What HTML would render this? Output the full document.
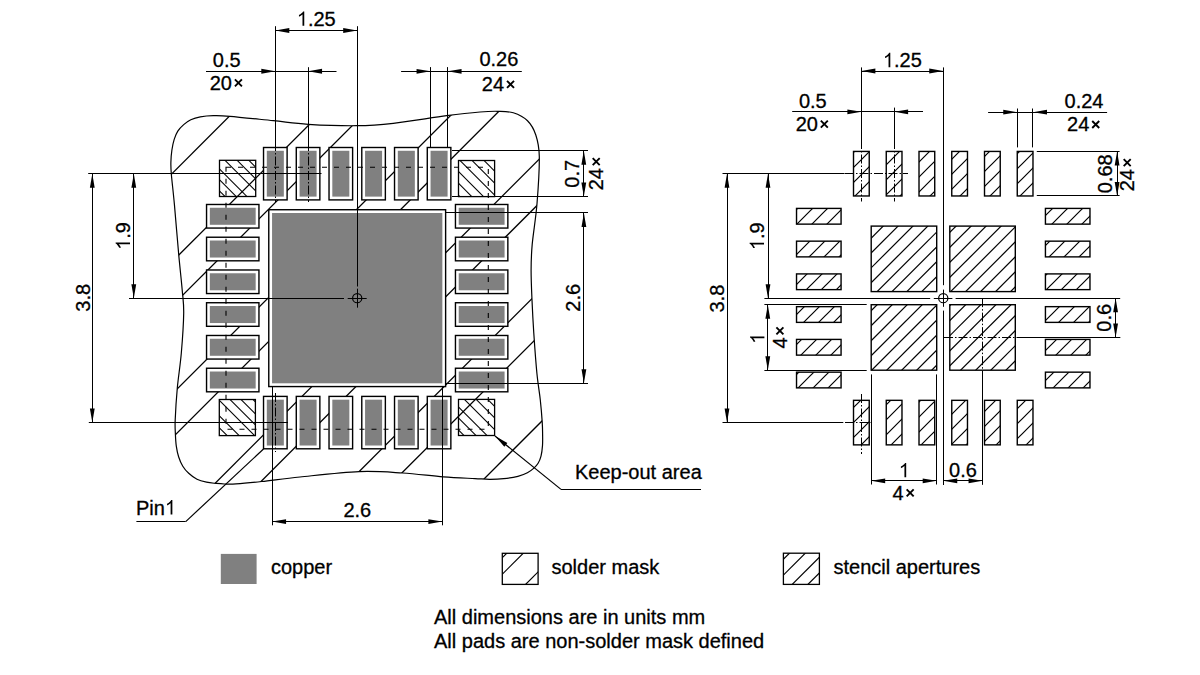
<!DOCTYPE html>
<html><head><meta charset="utf-8"><style>
html,body{margin:0;padding:0;background:#fff;width:1200px;height:675px;overflow:hidden}
svg{display:block}
</style></head><body>
<svg width="1200" height="675" viewBox="0 0 1200 675" font-family="Liberation Sans, sans-serif" stroke="#000" fill="#000">
<g stroke="#000">
<defs><clipPath id="ko"><path d="M171.30,173.70 C170.72,166.62 170.80,165.85 170.90,161.90 C171.00,157.95 171.35,153.75 171.90,150.00 C172.45,146.25 173.22,142.55 174.20,139.40 C175.18,136.25 176.22,133.57 177.80,131.10 C179.38,128.63 181.53,126.48 183.70,124.60 C185.87,122.72 188.03,121.08 190.80,119.80 C193.57,118.52 196.55,117.58 200.30,116.90 C204.05,116.22 208.37,115.80 213.30,115.70 C218.23,115.60 219.90,115.47 229.90,116.30 C239.90,117.13 260.23,119.37 273.30,120.70 C286.37,122.03 294.40,123.47 308.30,124.30 C322.20,125.13 342.53,125.87 356.70,125.70 C370.87,125.53 378.30,124.97 393.30,123.30 C408.30,121.63 432.25,117.58 446.70,115.70 C461.15,113.82 471.47,112.73 480.00,112.00 C488.53,111.27 492.35,111.17 497.90,111.30 C503.45,111.43 508.37,111.22 513.30,112.80 C518.23,114.38 523.75,117.10 527.50,120.80 C531.25,124.50 533.83,129.07 535.80,135.00 C537.77,140.93 539.10,144.93 539.30,156.40 C539.50,167.87 538.18,189.13 537.00,203.80 C535.82,218.47 533.18,233.37 532.20,244.40 C531.22,255.43 531.13,260.73 531.10,270.00 C531.07,279.27 531.55,289.45 532.00,300.00 C532.45,310.55 532.98,321.08 533.80,333.30 C534.62,345.52 535.82,362.18 536.90,373.30 C537.98,384.42 539.42,391.90 540.30,400.00 C541.18,408.10 541.82,416.28 542.20,421.90 C542.58,427.52 542.55,429.75 542.60,433.70 C542.65,437.65 542.77,441.85 542.50,445.60 C542.23,449.35 541.73,453.25 541.00,456.20 C540.27,459.15 539.28,461.32 538.10,463.30 C536.92,465.28 535.68,466.52 533.90,468.10 C532.12,469.68 530.07,471.42 527.40,472.80 C524.73,474.18 521.85,475.42 517.90,476.40 C513.95,477.38 508.43,478.22 503.70,478.70 C498.97,479.18 494.28,479.32 489.50,479.30 C484.72,479.28 482.70,479.00 475.00,478.60 C467.30,478.20 455.40,477.83 443.30,476.90 C431.20,475.97 416.43,473.88 402.40,473.00 C388.37,472.12 376.17,470.93 359.10,471.60 C342.03,472.27 316.23,475.35 300.00,477.00 C283.77,478.65 272.37,480.35 261.70,481.50 C251.03,482.65 242.23,483.48 236.00,483.90 C229.77,484.32 227.63,484.08 224.30,484.00 C220.97,483.92 218.97,483.70 216.00,483.40 C213.03,483.10 209.67,482.88 206.50,482.20 C203.33,481.52 199.97,480.78 197.00,479.30 C194.03,477.82 191.07,475.48 188.70,473.30 C186.33,471.12 184.48,468.97 182.80,466.20 C181.12,463.43 179.68,460.05 178.60,456.70 C177.52,453.35 176.83,449.85 176.30,446.10 C175.77,442.35 175.58,438.55 175.40,434.20 C175.22,429.85 174.88,427.70 175.20,420.00 C175.52,412.30 176.28,399.12 177.30,388.00 C178.32,376.88 180.23,365.75 181.30,353.30 C182.37,340.85 183.55,323.85 183.70,313.30 C183.85,302.75 183.05,300.00 182.20,290.00 C181.35,280.00 179.90,267.57 178.60,253.30 C177.30,239.03 175.62,217.67 174.40,204.40 C173.18,191.13 171.88,180.78 171.30,173.70 Z"/></clipPath></defs>
<g clip-path="url(#ko)" stroke-width="1.3">
<line x1="-386.70" y1="600.00" x2="213.30" y2="0.00" stroke-width="1.3" />
<line x1="-298.50" y1="600.00" x2="301.50" y2="0.00" stroke-width="1.3" />
<line x1="-254.40" y1="600.00" x2="345.60" y2="0.00" stroke-width="1.3" />
<line x1="-166.20" y1="600.00" x2="433.80" y2="0.00" stroke-width="1.3" />
<line x1="-122.10" y1="600.00" x2="477.90" y2="0.00" stroke-width="1.3" />
<line x1="-33.90" y1="600.00" x2="566.10" y2="0.00" stroke-width="1.3" />
<line x1="10.20" y1="600.00" x2="610.20" y2="0.00" stroke-width="1.3" />
<line x1="98.40" y1="600.00" x2="698.40" y2="0.00" stroke-width="1.3" />
<line x1="142.50" y1="600.00" x2="742.50" y2="0.00" stroke-width="1.3" />
<line x1="230.70" y1="600.00" x2="830.70" y2="0.00" stroke-width="1.3" />
<line x1="274.80" y1="600.00" x2="874.80" y2="0.00" stroke-width="1.3" />
<line x1="363.00" y1="600.00" x2="963.00" y2="0.00" stroke-width="1.3" />
<line x1="407.10" y1="600.00" x2="1007.10" y2="0.00" stroke-width="1.3" />
</g>
<path d="M171.30,173.70 C170.72,166.62 170.80,165.85 170.90,161.90 C171.00,157.95 171.35,153.75 171.90,150.00 C172.45,146.25 173.22,142.55 174.20,139.40 C175.18,136.25 176.22,133.57 177.80,131.10 C179.38,128.63 181.53,126.48 183.70,124.60 C185.87,122.72 188.03,121.08 190.80,119.80 C193.57,118.52 196.55,117.58 200.30,116.90 C204.05,116.22 208.37,115.80 213.30,115.70 C218.23,115.60 219.90,115.47 229.90,116.30 C239.90,117.13 260.23,119.37 273.30,120.70 C286.37,122.03 294.40,123.47 308.30,124.30 C322.20,125.13 342.53,125.87 356.70,125.70 C370.87,125.53 378.30,124.97 393.30,123.30 C408.30,121.63 432.25,117.58 446.70,115.70 C461.15,113.82 471.47,112.73 480.00,112.00 C488.53,111.27 492.35,111.17 497.90,111.30 C503.45,111.43 508.37,111.22 513.30,112.80 C518.23,114.38 523.75,117.10 527.50,120.80 C531.25,124.50 533.83,129.07 535.80,135.00 C537.77,140.93 539.10,144.93 539.30,156.40 C539.50,167.87 538.18,189.13 537.00,203.80 C535.82,218.47 533.18,233.37 532.20,244.40 C531.22,255.43 531.13,260.73 531.10,270.00 C531.07,279.27 531.55,289.45 532.00,300.00 C532.45,310.55 532.98,321.08 533.80,333.30 C534.62,345.52 535.82,362.18 536.90,373.30 C537.98,384.42 539.42,391.90 540.30,400.00 C541.18,408.10 541.82,416.28 542.20,421.90 C542.58,427.52 542.55,429.75 542.60,433.70 C542.65,437.65 542.77,441.85 542.50,445.60 C542.23,449.35 541.73,453.25 541.00,456.20 C540.27,459.15 539.28,461.32 538.10,463.30 C536.92,465.28 535.68,466.52 533.90,468.10 C532.12,469.68 530.07,471.42 527.40,472.80 C524.73,474.18 521.85,475.42 517.90,476.40 C513.95,477.38 508.43,478.22 503.70,478.70 C498.97,479.18 494.28,479.32 489.50,479.30 C484.72,479.28 482.70,479.00 475.00,478.60 C467.30,478.20 455.40,477.83 443.30,476.90 C431.20,475.97 416.43,473.88 402.40,473.00 C388.37,472.12 376.17,470.93 359.10,471.60 C342.03,472.27 316.23,475.35 300.00,477.00 C283.77,478.65 272.37,480.35 261.70,481.50 C251.03,482.65 242.23,483.48 236.00,483.90 C229.77,484.32 227.63,484.08 224.30,484.00 C220.97,483.92 218.97,483.70 216.00,483.40 C213.03,483.10 209.67,482.88 206.50,482.20 C203.33,481.52 199.97,480.78 197.00,479.30 C194.03,477.82 191.07,475.48 188.70,473.30 C186.33,471.12 184.48,468.97 182.80,466.20 C181.12,463.43 179.68,460.05 178.60,456.70 C177.52,453.35 176.83,449.85 176.30,446.10 C175.77,442.35 175.58,438.55 175.40,434.20 C175.22,429.85 174.88,427.70 175.20,420.00 C175.52,412.30 176.28,399.12 177.30,388.00 C178.32,376.88 180.23,365.75 181.30,353.30 C182.37,340.85 183.55,323.85 183.70,313.30 C183.85,302.75 183.05,300.00 182.20,290.00 C181.35,280.00 179.90,267.57 178.60,253.30 C177.30,239.03 175.62,217.67 174.40,204.40 C173.18,191.13 171.88,180.78 171.30,173.70 Z" fill="none" stroke-width="1.2"/>
<clipPath id="cs219160"><rect x="219.5" y="160.3" width="36.2" height="36.2"/></clipPath>
<g clip-path="url(#cs219160)">
<line x1="166.90" y1="150.30" x2="223.10" y2="206.50" stroke-width="1.05" />
<line x1="178.90" y1="150.30" x2="235.10" y2="206.50" stroke-width="1.05" />
<line x1="190.00" y1="150.30" x2="246.20" y2="206.50" stroke-width="1.05" />
<line x1="200.70" y1="150.30" x2="256.90" y2="206.50" stroke-width="1.05" />
<line x1="215.00" y1="150.30" x2="271.20" y2="206.50" stroke-width="1.05" />
<line x1="227.10" y1="150.30" x2="283.30" y2="206.50" stroke-width="1.05" />
<line x1="238.80" y1="150.30" x2="295.00" y2="206.50" stroke-width="1.05" />
</g>
<rect x="219.50" y="160.30" width="36.20" height="36.20" fill="none" stroke-width="1.3" />
<clipPath id="cs458160"><rect x="458.5" y="160.5" width="36.1" height="36.1"/></clipPath>
<g clip-path="url(#cs458160)">
<line x1="413.70" y1="150.50" x2="469.80" y2="206.60" stroke-width="1.05" />
<line x1="425.70" y1="150.50" x2="481.80" y2="206.60" stroke-width="1.05" />
<line x1="437.40" y1="150.50" x2="493.50" y2="206.60" stroke-width="1.05" />
<line x1="450.00" y1="150.50" x2="506.10" y2="206.60" stroke-width="1.05" />
<line x1="462.10" y1="150.50" x2="518.20" y2="206.60" stroke-width="1.05" />
<line x1="474.10" y1="150.50" x2="530.20" y2="206.60" stroke-width="1.05" />
</g>
<rect x="458.50" y="160.50" width="36.10" height="36.10" fill="none" stroke-width="1.3" />
<clipPath id="cs219399"><rect x="219.3" y="399.5" width="36.1" height="36.1"/></clipPath>
<g clip-path="url(#cs219399)">
<line x1="169.10" y1="389.50" x2="225.20" y2="445.60" stroke-width="1.05" />
<line x1="181.10" y1="389.50" x2="237.20" y2="445.60" stroke-width="1.05" />
<line x1="193.10" y1="389.50" x2="249.20" y2="445.60" stroke-width="1.05" />
<line x1="208.50" y1="389.50" x2="264.60" y2="445.60" stroke-width="1.05" />
<line x1="220.00" y1="389.50" x2="276.10" y2="445.60" stroke-width="1.05" />
<line x1="231.00" y1="389.50" x2="287.10" y2="445.60" stroke-width="1.05" />
<line x1="243.00" y1="389.50" x2="299.10" y2="445.60" stroke-width="1.05" />
</g>
<rect x="219.30" y="399.50" width="36.10" height="36.10" fill="none" stroke-width="1.3" />
<clipPath id="cs458399"><rect x="458.5" y="399.4" width="36.1" height="36.1"/></clipPath>
<g clip-path="url(#cs458399)">
<line x1="406.00" y1="389.40" x2="462.10" y2="445.50" stroke-width="1.05" />
<line x1="417.90" y1="389.40" x2="474.00" y2="445.50" stroke-width="1.05" />
<line x1="429.90" y1="389.40" x2="486.00" y2="445.50" stroke-width="1.05" />
<line x1="440.90" y1="389.40" x2="497.00" y2="445.50" stroke-width="1.05" />
<line x1="454.40" y1="389.40" x2="510.50" y2="445.50" stroke-width="1.05" />
<line x1="466.20" y1="389.40" x2="522.30" y2="445.50" stroke-width="1.05" />
<line x1="477.70" y1="389.40" x2="533.80" y2="445.50" stroke-width="1.05" />
</g>
<rect x="458.50" y="399.40" width="36.10" height="36.10" fill="none" stroke-width="1.3" />
<rect x="263.53" y="147.50" width="23.58" height="52.40" fill="#fff" stroke-width="1.4" />
<rect x="266.81" y="150.77" width="17.03" height="45.85" fill="#808080" stroke="none"/>
<rect x="263.53" y="396.40" width="23.58" height="52.40" fill="#fff" stroke-width="1.4" />
<rect x="266.81" y="399.67" width="17.03" height="45.85" fill="#808080" stroke="none"/>
<rect x="206.55" y="204.48" width="52.40" height="23.58" fill="#fff" stroke-width="1.4" />
<rect x="209.82" y="207.76" width="45.85" height="17.03" fill="#808080" stroke="none"/>
<rect x="455.45" y="204.48" width="52.40" height="23.58" fill="#fff" stroke-width="1.4" />
<rect x="458.72" y="207.76" width="45.85" height="17.03" fill="#808080" stroke="none"/>
<rect x="296.28" y="147.50" width="23.58" height="52.40" fill="#fff" stroke-width="1.4" />
<rect x="299.56" y="150.77" width="17.03" height="45.85" fill="#808080" stroke="none"/>
<rect x="296.28" y="396.40" width="23.58" height="52.40" fill="#fff" stroke-width="1.4" />
<rect x="299.56" y="399.67" width="17.03" height="45.85" fill="#808080" stroke="none"/>
<rect x="206.55" y="237.23" width="52.40" height="23.58" fill="#fff" stroke-width="1.4" />
<rect x="209.82" y="240.51" width="45.85" height="17.03" fill="#808080" stroke="none"/>
<rect x="455.45" y="237.23" width="52.40" height="23.58" fill="#fff" stroke-width="1.4" />
<rect x="458.72" y="240.51" width="45.85" height="17.03" fill="#808080" stroke="none"/>
<rect x="329.03" y="147.50" width="23.58" height="52.40" fill="#fff" stroke-width="1.4" />
<rect x="332.31" y="150.77" width="17.03" height="45.85" fill="#808080" stroke="none"/>
<rect x="329.03" y="396.40" width="23.58" height="52.40" fill="#fff" stroke-width="1.4" />
<rect x="332.31" y="399.67" width="17.03" height="45.85" fill="#808080" stroke="none"/>
<rect x="206.55" y="269.98" width="52.40" height="23.58" fill="#fff" stroke-width="1.4" />
<rect x="209.82" y="273.26" width="45.85" height="17.03" fill="#808080" stroke="none"/>
<rect x="455.45" y="269.98" width="52.40" height="23.58" fill="#fff" stroke-width="1.4" />
<rect x="458.72" y="273.26" width="45.85" height="17.03" fill="#808080" stroke="none"/>
<rect x="361.78" y="147.50" width="23.58" height="52.40" fill="#fff" stroke-width="1.4" />
<rect x="365.06" y="150.77" width="17.03" height="45.85" fill="#808080" stroke="none"/>
<rect x="361.78" y="396.40" width="23.58" height="52.40" fill="#fff" stroke-width="1.4" />
<rect x="365.06" y="399.67" width="17.03" height="45.85" fill="#808080" stroke="none"/>
<rect x="206.55" y="302.73" width="52.40" height="23.58" fill="#fff" stroke-width="1.4" />
<rect x="209.82" y="306.01" width="45.85" height="17.03" fill="#808080" stroke="none"/>
<rect x="455.45" y="302.73" width="52.40" height="23.58" fill="#fff" stroke-width="1.4" />
<rect x="458.72" y="306.01" width="45.85" height="17.03" fill="#808080" stroke="none"/>
<rect x="394.53" y="147.50" width="23.58" height="52.40" fill="#fff" stroke-width="1.4" />
<rect x="397.81" y="150.77" width="17.03" height="45.85" fill="#808080" stroke="none"/>
<rect x="394.53" y="396.40" width="23.58" height="52.40" fill="#fff" stroke-width="1.4" />
<rect x="397.81" y="399.67" width="17.03" height="45.85" fill="#808080" stroke="none"/>
<rect x="206.55" y="335.48" width="52.40" height="23.58" fill="#fff" stroke-width="1.4" />
<rect x="209.82" y="338.76" width="45.85" height="17.03" fill="#808080" stroke="none"/>
<rect x="455.45" y="335.48" width="52.40" height="23.58" fill="#fff" stroke-width="1.4" />
<rect x="458.72" y="338.76" width="45.85" height="17.03" fill="#808080" stroke="none"/>
<rect x="427.28" y="147.50" width="23.58" height="52.40" fill="#fff" stroke-width="1.4" />
<rect x="430.56" y="150.77" width="17.03" height="45.85" fill="#808080" stroke="none"/>
<rect x="427.28" y="396.40" width="23.58" height="52.40" fill="#fff" stroke-width="1.4" />
<rect x="430.56" y="399.67" width="17.03" height="45.85" fill="#808080" stroke="none"/>
<rect x="206.55" y="368.23" width="52.40" height="23.58" fill="#fff" stroke-width="1.4" />
<rect x="209.82" y="371.51" width="45.85" height="17.03" fill="#808080" stroke="none"/>
<rect x="455.45" y="368.23" width="52.40" height="23.58" fill="#fff" stroke-width="1.4" />
<rect x="458.72" y="371.51" width="45.85" height="17.03" fill="#808080" stroke="none"/>
<rect x="268.77" y="209.72" width="176.85" height="176.85" fill="#fff" stroke-width="1.4" />
<rect x="272.05" y="213.00" width="170.30" height="170.30" fill="#808080" stroke="none"/>
<rect x="226.0" y="167.3" width="262.3" height="261.9" fill="none" stroke-width="1.1" stroke-dasharray="5 7"/>
<line x1="275.50" y1="142.00" x2="275.50" y2="202.00" stroke-width="1.0" stroke-dasharray="9 2 1.5 2"/>
<line x1="308.50" y1="142.00" x2="308.50" y2="202.00" stroke-width="1.0" stroke-dasharray="9 2 1.5 2"/>
<line x1="275.50" y1="393.00" x2="275.50" y2="452.00" stroke-width="1.0" stroke-dasharray="9 2 1.5 2"/>
<line x1="275.50" y1="26.20" x2="275.50" y2="142.00" stroke-width="1.0" />
<line x1="357.50" y1="26.20" x2="357.50" y2="286.50" stroke-width="1.0" />
<line x1="275.32" y1="30.50" x2="357.20" y2="30.50" stroke-width="1.0" />
<path d="M275.32,30.50 L289.32,28.10 L289.32,32.90 Z" fill="#000" stroke="none"/>
<path d="M357.20,30.50 L343.20,32.90 L343.20,28.10 Z" fill="#000" stroke="none"/>
<g><path d="M763 0 L583 0 L583 1147 Q518 1085 412 1023 Q306 961 221 930 L221 1104 Q372 1175 485 1276 Q598 1377 645 1472 L763 1472 Z" transform="translate(296.80 25.80) scale(0.00977 -0.00977)" stroke="none" fill="#000"/><text stroke="#000" stroke-width="0.3" x="307.92" y="25.80" font-size="20">.25</text></g>
<line x1="206.00" y1="71.50" x2="336.50" y2="71.50" stroke-width="1.0" />
<path d="M275.32,71.25 L261.32,73.65 L261.32,68.85 Z" fill="#000" stroke="none"/>
<path d="M308.07,71.25 L322.07,68.85 L322.07,73.65 Z" fill="#000" stroke="none"/>
<line x1="308.50" y1="67.20" x2="308.50" y2="142.00" stroke-width="1.0" />
<g><text stroke="#000" stroke-width="0.3" x="212.80" y="66.75" font-size="20">0.5</text></g>
<g><text stroke="#000" stroke-width="0.3" x="209.74" y="89.70" font-size="20">20</text><path d="M234.92,79.40 L241.92,86.40 M234.92,86.40 L241.92,79.40" stroke-width="1.9" fill="none"/></g>
<line x1="401.10" y1="71.50" x2="521.80" y2="71.50" stroke-width="1.0" />
<path d="M430.56,71.30 L416.56,73.70 L416.56,68.90 Z" fill="#000" stroke="none"/>
<path d="M447.59,71.30 L461.59,68.90 L461.59,73.70 Z" fill="#000" stroke="none"/>
<line x1="430.50" y1="67.10" x2="430.50" y2="147.00" stroke-width="1.0" />
<line x1="447.50" y1="67.10" x2="447.50" y2="147.00" stroke-width="1.0" />
<g><text stroke="#000" stroke-width="0.3" x="479.44" y="66.25" font-size="20">0.26</text></g>
<g><text stroke="#000" stroke-width="0.3" x="481.84" y="91.20" font-size="20">24</text><path d="M507.02,80.90 L514.02,87.90 M507.02,87.90 L514.02,80.90" stroke-width="1.9" fill="none"/></g>
<line x1="452.00" y1="150.50" x2="588.00" y2="150.50" stroke-width="1.0" />
<line x1="452.00" y1="196.50" x2="588.00" y2="196.50" stroke-width="1.0" />
<line x1="583.50" y1="150.77" x2="583.50" y2="196.62" stroke-width="1.0" />
<path d="M583.80,150.77 L586.20,164.77 L581.40,164.77 Z" fill="#000" stroke="none"/>
<path d="M583.80,196.62 L581.40,182.62 L586.20,182.62 Z" fill="#000" stroke="none"/>
<g transform="rotate(-90 579.30 173.80)"><text stroke="#000" stroke-width="0.3" x="565.40" y="173.80" font-size="20">0.7</text></g>
<g transform="rotate(-90 603.00 173.40)"><text stroke="#000" stroke-width="0.3" x="586.04" y="173.40" font-size="20">24</text><path d="M611.22,163.10 L618.22,170.10 M611.22,170.10 L618.22,163.10" stroke-width="1.9" fill="none"/></g>
<line x1="446.00" y1="212.50" x2="588.00" y2="212.50" stroke-width="1.0" />
<line x1="446.00" y1="383.50" x2="588.00" y2="383.50" stroke-width="1.0" />
<line x1="583.50" y1="213.00" x2="583.50" y2="383.30" stroke-width="1.0" />
<path d="M583.90,213.00 L586.30,227.00 L581.50,227.00 Z" fill="#000" stroke="none"/>
<path d="M583.90,383.30 L581.50,369.30 L586.30,369.30 Z" fill="#000" stroke="none"/>
<g transform="rotate(-90 579.80 297.80)"><text stroke="#000" stroke-width="0.3" x="565.90" y="297.80" font-size="20">2.6</text></g>
<line x1="88.20" y1="173.50" x2="321.50" y2="173.50" stroke-width="1.0" />
<line x1="129.00" y1="298.50" x2="344.00" y2="298.50" stroke-width="1.0" />
<line x1="88.80" y1="422.50" x2="288.00" y2="422.50" stroke-width="1.0" />
<line x1="133.50" y1="173.70" x2="133.50" y2="298.15" stroke-width="1.0" />
<path d="M133.80,173.70 L136.20,187.70 L131.40,187.70 Z" fill="#000" stroke="none"/>
<path d="M133.80,298.15 L131.40,284.15 L136.20,284.15 Z" fill="#000" stroke="none"/>
<line x1="92.50" y1="173.70" x2="92.50" y2="422.60" stroke-width="1.0" />
<path d="M92.30,173.70 L94.70,187.70 L89.90,187.70 Z" fill="#000" stroke="none"/>
<path d="M92.30,422.60 L89.90,408.60 L94.70,408.60 Z" fill="#000" stroke="none"/>
<g transform="rotate(-90 130.00 236.00)"><path d="M763 0 L583 0 L583 1147 Q518 1085 412 1023 Q306 961 221 930 L221 1104 Q372 1175 485 1276 Q598 1377 645 1472 L763 1472 Z" transform="translate(116.10 236.00) scale(0.00977 -0.00977)" stroke="none" fill="#000"/><text stroke="#000" stroke-width="0.3" x="127.22" y="236.00" font-size="20">.9</text></g>
<g transform="rotate(-90 90.00 297.80)"><text stroke="#000" stroke-width="0.3" x="76.10" y="297.80" font-size="20">3.8</text></g>
<line x1="272.50" y1="386.57" x2="272.50" y2="525.30" stroke-width="1.0" />
<line x1="442.50" y1="386.57" x2="442.50" y2="525.30" stroke-width="1.0" />
<line x1="272.05" y1="521.50" x2="442.35" y2="521.50" stroke-width="1.0" />
<path d="M272.05,521.60 L286.05,519.20 L286.05,524.00 Z" fill="#000" stroke="none"/>
<path d="M442.35,521.60 L428.35,524.00 L428.35,519.20 Z" fill="#000" stroke="none"/>
<g><text stroke="#000" stroke-width="0.3" x="343.40" y="516.80" font-size="20">2.6</text></g>
<line x1="136.40" y1="521.50" x2="185.70" y2="521.50" stroke-width="1.0" />
<line x1="185.70" y1="521.60" x2="263.50" y2="449.00" stroke-width="1.2" />
<g><text stroke="#000" stroke-width="0.3" x="136.00" y="514.50" font-size="20">Pin</text><path d="M763 0 L583 0 L583 1147 Q518 1085 412 1023 Q306 961 221 930 L221 1104 Q372 1175 485 1276 Q598 1377 645 1472 L763 1472 Z" transform="translate(164.91 514.50) scale(0.00977 -0.00977)" stroke="none" fill="#000"/></g>
<line x1="495.00" y1="436.00" x2="561.00" y2="489.40" stroke-width="1.2" />
<line x1="561.00" y1="489.50" x2="701.00" y2="489.50" stroke-width="1.0" />
<path d="M495.00,436.00 L507.39,442.94 L504.37,446.67 Z" fill="#000" stroke="none"/>
<g><text stroke="#000" stroke-width="0.3" x="575.00" y="478.60" font-size="20">Keep-out area</text></g>
<circle cx="357.2" cy="298.15" r="4.6" fill="none" stroke-width="1.2"/>
<line x1="347.70" y1="298.50" x2="366.70" y2="298.50" stroke-width="1.0" />
<line x1="357.50" y1="288.65" x2="357.50" y2="307.65" stroke-width="1.0" />
<defs><pattern id="st" patternUnits="userSpaceOnUse" width="15" height="15" x="1" y="0"><path d="M-1,16 L16,-1 M-1,1 L1,-1 M14,16 L16,14" stroke="#000" stroke-width="1.2"/></pattern></defs>
<rect x="853.51" y="151.43" width="15.72" height="44.54" fill="url(#st)" stroke-width="1.4" />
<rect x="853.51" y="400.33" width="15.72" height="44.54" fill="url(#st)" stroke-width="1.4" />
<rect x="796.53" y="208.41" width="44.54" height="15.72" fill="url(#st)" stroke-width="1.4" />
<rect x="1045.43" y="208.41" width="44.54" height="15.72" fill="url(#st)" stroke-width="1.4" />
<rect x="886.26" y="151.43" width="15.72" height="44.54" fill="url(#st)" stroke-width="1.4" />
<rect x="886.26" y="400.33" width="15.72" height="44.54" fill="url(#st)" stroke-width="1.4" />
<rect x="796.53" y="241.16" width="44.54" height="15.72" fill="url(#st)" stroke-width="1.4" />
<rect x="1045.43" y="241.16" width="44.54" height="15.72" fill="url(#st)" stroke-width="1.4" />
<rect x="919.01" y="151.43" width="15.72" height="44.54" fill="url(#st)" stroke-width="1.4" />
<rect x="919.01" y="400.33" width="15.72" height="44.54" fill="url(#st)" stroke-width="1.4" />
<rect x="796.53" y="273.91" width="44.54" height="15.72" fill="url(#st)" stroke-width="1.4" />
<rect x="1045.43" y="273.91" width="44.54" height="15.72" fill="url(#st)" stroke-width="1.4" />
<rect x="951.76" y="151.43" width="15.72" height="44.54" fill="url(#st)" stroke-width="1.4" />
<rect x="951.76" y="400.33" width="15.72" height="44.54" fill="url(#st)" stroke-width="1.4" />
<rect x="796.53" y="306.66" width="44.54" height="15.72" fill="url(#st)" stroke-width="1.4" />
<rect x="1045.43" y="306.66" width="44.54" height="15.72" fill="url(#st)" stroke-width="1.4" />
<rect x="984.51" y="151.43" width="15.72" height="44.54" fill="url(#st)" stroke-width="1.4" />
<rect x="984.51" y="400.33" width="15.72" height="44.54" fill="url(#st)" stroke-width="1.4" />
<rect x="796.53" y="339.41" width="44.54" height="15.72" fill="url(#st)" stroke-width="1.4" />
<rect x="1045.43" y="339.41" width="44.54" height="15.72" fill="url(#st)" stroke-width="1.4" />
<rect x="1017.26" y="151.43" width="15.72" height="44.54" fill="url(#st)" stroke-width="1.4" />
<rect x="1017.26" y="400.33" width="15.72" height="44.54" fill="url(#st)" stroke-width="1.4" />
<rect x="796.53" y="372.16" width="44.54" height="15.72" fill="url(#st)" stroke-width="1.4" />
<rect x="1045.43" y="372.16" width="44.54" height="15.72" fill="url(#st)" stroke-width="1.4" />
<clipPath id="bq00"><rect x="871.20" y="226.10" width="65.50" height="65.50"/></clipPath>
<g clip-path="url(#bq00)">
<line x1="873.34" y1="221.10" x2="797.84" y2="296.60" stroke-width="1.2" />
<line x1="888.20" y1="221.10" x2="812.70" y2="296.60" stroke-width="1.2" />
<line x1="903.06" y1="221.10" x2="827.56" y2="296.60" stroke-width="1.2" />
<line x1="917.92" y1="221.10" x2="842.42" y2="296.60" stroke-width="1.2" />
<line x1="932.78" y1="221.10" x2="857.28" y2="296.60" stroke-width="1.2" />
<line x1="947.64" y1="221.10" x2="872.14" y2="296.60" stroke-width="1.2" />
<line x1="962.50" y1="221.10" x2="887.00" y2="296.60" stroke-width="1.2" />
<line x1="977.36" y1="221.10" x2="901.86" y2="296.60" stroke-width="1.2" />
<line x1="992.22" y1="221.10" x2="916.72" y2="296.60" stroke-width="1.2" />
<line x1="1007.08" y1="221.10" x2="931.58" y2="296.60" stroke-width="1.2" />
<line x1="1021.94" y1="221.10" x2="946.44" y2="296.60" stroke-width="1.2" />
</g>
<rect x="871.20" y="226.10" width="65.50" height="65.50" fill="none" stroke-width="1.4" />
<clipPath id="bq02"><rect x="871.20" y="304.70" width="65.50" height="65.50"/></clipPath>
<g clip-path="url(#bq02)">
<line x1="867.20" y1="299.70" x2="791.70" y2="375.20" stroke-width="1.2" />
<line x1="882.20" y1="299.70" x2="806.70" y2="375.20" stroke-width="1.2" />
<line x1="897.20" y1="299.70" x2="821.70" y2="375.20" stroke-width="1.2" />
<line x1="912.20" y1="299.70" x2="836.70" y2="375.20" stroke-width="1.2" />
<line x1="927.20" y1="299.70" x2="851.70" y2="375.20" stroke-width="1.2" />
<line x1="942.20" y1="299.70" x2="866.70" y2="375.20" stroke-width="1.2" />
<line x1="957.20" y1="299.70" x2="881.70" y2="375.20" stroke-width="1.2" />
<line x1="972.20" y1="299.70" x2="896.70" y2="375.20" stroke-width="1.2" />
<line x1="987.20" y1="299.70" x2="911.70" y2="375.20" stroke-width="1.2" />
<line x1="1002.20" y1="299.70" x2="926.70" y2="375.20" stroke-width="1.2" />
<line x1="1017.20" y1="299.70" x2="941.70" y2="375.20" stroke-width="1.2" />
</g>
<rect x="871.20" y="304.70" width="65.50" height="65.50" fill="none" stroke-width="1.4" />
<clipPath id="bq20"><rect x="949.80" y="226.10" width="65.50" height="65.50"/></clipPath>
<g clip-path="url(#bq20)">
<line x1="946.10" y1="221.10" x2="870.60" y2="296.60" stroke-width="1.2" />
<line x1="961.10" y1="221.10" x2="885.60" y2="296.60" stroke-width="1.2" />
<line x1="976.10" y1="221.10" x2="900.60" y2="296.60" stroke-width="1.2" />
<line x1="991.10" y1="221.10" x2="915.60" y2="296.60" stroke-width="1.2" />
<line x1="1006.10" y1="221.10" x2="930.60" y2="296.60" stroke-width="1.2" />
<line x1="1021.10" y1="221.10" x2="945.60" y2="296.60" stroke-width="1.2" />
<line x1="1036.10" y1="221.10" x2="960.60" y2="296.60" stroke-width="1.2" />
<line x1="1051.10" y1="221.10" x2="975.60" y2="296.60" stroke-width="1.2" />
<line x1="1066.10" y1="221.10" x2="990.60" y2="296.60" stroke-width="1.2" />
<line x1="1081.10" y1="221.10" x2="1005.60" y2="296.60" stroke-width="1.2" />
<line x1="1096.10" y1="221.10" x2="1020.60" y2="296.60" stroke-width="1.2" />
</g>
<rect x="949.80" y="226.10" width="65.50" height="65.50" fill="none" stroke-width="1.4" />
<clipPath id="bq22"><rect x="949.80" y="304.70" width="65.50" height="65.50"/></clipPath>
<g clip-path="url(#bq22)">
<line x1="955.60" y1="299.70" x2="880.10" y2="375.20" stroke-width="1.2" />
<line x1="970.70" y1="299.70" x2="895.20" y2="375.20" stroke-width="1.2" />
<line x1="985.80" y1="299.70" x2="910.30" y2="375.20" stroke-width="1.2" />
<line x1="1000.90" y1="299.70" x2="925.40" y2="375.20" stroke-width="1.2" />
<line x1="1016.00" y1="299.70" x2="940.50" y2="375.20" stroke-width="1.2" />
<line x1="1031.10" y1="299.70" x2="955.60" y2="375.20" stroke-width="1.2" />
<line x1="1046.20" y1="299.70" x2="970.70" y2="375.20" stroke-width="1.2" />
<line x1="1061.30" y1="299.70" x2="985.80" y2="375.20" stroke-width="1.2" />
<line x1="1076.40" y1="299.70" x2="1000.90" y2="375.20" stroke-width="1.2" />
<line x1="1091.50" y1="299.70" x2="1016.00" y2="375.20" stroke-width="1.2" />
</g>
<rect x="949.80" y="304.70" width="65.50" height="65.50" fill="none" stroke-width="1.4" />
<line x1="861.50" y1="140.00" x2="861.50" y2="201.50" stroke-width="1.0" stroke-dasharray="9 2 1.5 2"/>
<line x1="894.50" y1="140.00" x2="894.50" y2="201.50" stroke-width="1.0" stroke-dasharray="9 2 1.5 2"/>
<line x1="845.00" y1="173.50" x2="908.00" y2="173.50" stroke-width="1.0" stroke-dasharray="9 2 1.5 2"/>
<line x1="861.50" y1="394.00" x2="861.50" y2="454.00" stroke-width="1.0" stroke-dasharray="9 2 1.5 2"/>
<line x1="845.00" y1="422.50" x2="874.00" y2="422.50" stroke-width="1.0" stroke-dasharray="9 2 1.5 2"/>
<line x1="982.50" y1="298.15" x2="982.50" y2="486.00" stroke-width="1.0" stroke-dasharray="9 2 1.5 2"/>
<line x1="944.00" y1="337.50" x2="1120.20" y2="337.50" stroke-width="1.0" stroke-dasharray="9 2 1.5 2"/>
<line x1="861.50" y1="67.40" x2="861.50" y2="140.00" stroke-width="1.0" />
<line x1="943.50" y1="67.40" x2="943.50" y2="285.20" stroke-width="1.0" />
<line x1="943.50" y1="289.60" x2="943.50" y2="306.80" stroke-width="1.0" />
<line x1="943.50" y1="310.60" x2="943.50" y2="485.00" stroke-width="1.0" />
<line x1="861.38" y1="71.50" x2="943.25" y2="71.50" stroke-width="1.0" />
<path d="M861.38,71.00 L875.38,68.60 L875.38,73.40 Z" fill="#000" stroke="none"/>
<path d="M943.25,71.00 L929.25,73.40 L929.25,68.60 Z" fill="#000" stroke="none"/>
<g><path d="M763 0 L583 0 L583 1147 Q518 1085 412 1023 Q306 961 221 930 L221 1104 Q372 1175 485 1276 Q598 1377 645 1472 L763 1472 Z" transform="translate(882.85 67.20) scale(0.00977 -0.00977)" stroke="none" fill="#000"/><text stroke="#000" stroke-width="0.3" x="893.97" y="67.20" font-size="20">.25</text></g>
<line x1="792.20" y1="111.50" x2="923.00" y2="111.50" stroke-width="1.0" />
<path d="M861.38,111.80 L847.38,114.20 L847.38,109.40 Z" fill="#000" stroke="none"/>
<path d="M894.12,111.80 L908.12,109.40 L908.12,114.20 Z" fill="#000" stroke="none"/>
<line x1="894.50" y1="107.60" x2="894.50" y2="140.00" stroke-width="1.0" />
<g><text stroke="#000" stroke-width="0.3" x="798.90" y="108.00" font-size="20">0.5</text></g>
<g><text stroke="#000" stroke-width="0.3" x="795.64" y="131.00" font-size="20">20</text><path d="M820.82,120.70 L827.82,127.70 M820.82,127.70 L827.82,120.70" stroke-width="1.9" fill="none"/></g>
<line x1="988.10" y1="112.50" x2="1107.10" y2="112.50" stroke-width="1.0" />
<path d="M1017.26,112.20 L1003.26,114.60 L1003.26,109.80 Z" fill="#000" stroke="none"/>
<path d="M1032.98,112.20 L1046.98,109.80 L1046.98,114.60 Z" fill="#000" stroke="none"/>
<line x1="1017.50" y1="108.50" x2="1017.50" y2="147.40" stroke-width="1.0" />
<line x1="1032.50" y1="108.50" x2="1032.50" y2="147.40" stroke-width="1.0" />
<g><text stroke="#000" stroke-width="0.3" x="1064.54" y="108.00" font-size="20">0.24</text></g>
<g><text stroke="#000" stroke-width="0.3" x="1067.04" y="131.30" font-size="20">24</text><path d="M1092.22,121.00 L1099.22,128.00 M1092.22,128.00 L1099.22,121.00" stroke-width="1.9" fill="none"/></g>
<line x1="1036.80" y1="151.50" x2="1119.60" y2="151.50" stroke-width="1.0" />
<line x1="1036.80" y1="195.50" x2="1119.60" y2="195.50" stroke-width="1.0" />
<line x1="1117.50" y1="151.43" x2="1117.50" y2="195.97" stroke-width="1.0" />
<path d="M1117.10,151.43 L1119.50,165.43 L1114.70,165.43 Z" fill="#000" stroke="none"/>
<path d="M1117.10,195.97 L1114.70,181.97 L1119.50,181.97 Z" fill="#000" stroke="none"/>
<g transform="rotate(-90 1112.50 173.80)"><text stroke="#000" stroke-width="0.3" x="1093.04" y="173.80" font-size="20">0.68</text></g>
<g transform="rotate(-90 1134.00 174.30)"><text stroke="#000" stroke-width="0.3" x="1117.04" y="174.30" font-size="20">24</text><path d="M1142.22,164.00 L1149.22,171.00 M1142.22,171.00 L1149.22,164.00" stroke-width="1.9" fill="none"/></g>
<line x1="722.50" y1="173.50" x2="844.60" y2="173.50" stroke-width="1.0" />
<line x1="764.40" y1="298.50" x2="930.20" y2="298.50" stroke-width="1.0" />
<line x1="933.80" y1="298.50" x2="952.40" y2="298.50" stroke-width="1.0" />
<line x1="955.60" y1="298.50" x2="1120.20" y2="298.50" stroke-width="1.0" />
<line x1="722.50" y1="422.50" x2="843.30" y2="422.50" stroke-width="1.0" />
<line x1="768.50" y1="173.70" x2="768.50" y2="298.15" stroke-width="1.0" />
<path d="M768.00,173.70 L770.40,187.70 L765.60,187.70 Z" fill="#000" stroke="none"/>
<path d="M768.00,298.15 L765.60,284.15 L770.40,284.15 Z" fill="#000" stroke="none"/>
<line x1="727.50" y1="173.70" x2="727.50" y2="422.60" stroke-width="1.0" />
<path d="M727.00,173.70 L729.40,187.70 L724.60,187.70 Z" fill="#000" stroke="none"/>
<path d="M727.00,422.60 L724.60,408.60 L729.40,408.60 Z" fill="#000" stroke="none"/>
<g transform="rotate(-90 764.00 236.20)"><path d="M763 0 L583 0 L583 1147 Q518 1085 412 1023 Q306 961 221 930 L221 1104 Q372 1175 485 1276 Q598 1377 645 1472 L763 1472 Z" transform="translate(750.10 236.20) scale(0.00977 -0.00977)" stroke="none" fill="#000"/><text stroke="#000" stroke-width="0.3" x="761.22" y="236.20" font-size="20">.9</text></g>
<g transform="rotate(-90 723.70 298.60)"><text stroke="#000" stroke-width="0.3" x="709.80" y="298.60" font-size="20">3.8</text></g>
<line x1="764.40" y1="304.50" x2="866.70" y2="304.50" stroke-width="1.0" />
<line x1="764.40" y1="370.50" x2="866.70" y2="370.50" stroke-width="1.0" />
<line x1="767.50" y1="304.70" x2="767.50" y2="370.20" stroke-width="1.0" />
<path d="M767.80,304.70 L770.20,318.70 L765.40,318.70 Z" fill="#000" stroke="none"/>
<path d="M767.80,370.20 L765.40,356.20 L770.20,356.20 Z" fill="#000" stroke="none"/>
<g transform="rotate(-90 764.40 338.30)"><path d="M763 0 L583 0 L583 1147 Q518 1085 412 1023 Q306 961 221 930 L221 1104 Q372 1175 485 1276 Q598 1377 645 1472 L763 1472 Z" transform="translate(758.84 338.30) scale(0.00977 -0.00977)" stroke="none" fill="#000"/></g>
<g transform="rotate(-90 786.70 337.00)"><text stroke="#000" stroke-width="0.3" x="775.30" y="337.00" font-size="20">4</text><path d="M789.36,326.70 L796.36,333.70 M789.36,333.70 L796.36,326.70" stroke-width="1.9" fill="none"/></g>
<line x1="1020.00" y1="337.50" x2="1120.20" y2="337.50" stroke-width="1.0" />
<line x1="1115.50" y1="298.15" x2="1115.50" y2="337.45" stroke-width="1.0" />
<path d="M1115.60,298.15 L1118.00,312.15 L1113.20,312.15 Z" fill="#000" stroke="none"/>
<path d="M1115.60,337.45 L1113.20,323.45 L1118.00,323.45 Z" fill="#000" stroke="none"/>
<g transform="rotate(-90 1111.00 317.80)"><text stroke="#000" stroke-width="0.3" x="1097.10" y="317.80" font-size="20">0.6</text></g>
<line x1="871.50" y1="374.40" x2="871.50" y2="484.50" stroke-width="1.0" />
<line x1="936.50" y1="374.40" x2="936.50" y2="484.50" stroke-width="1.0" />
<line x1="982.50" y1="374.40" x2="982.50" y2="484.50" stroke-width="1.0" />
<line x1="871.20" y1="480.50" x2="936.70" y2="480.50" stroke-width="1.0" />
<path d="M871.20,480.80 L885.20,478.40 L885.20,483.20 Z" fill="#000" stroke="none"/>
<path d="M936.70,480.80 L922.70,483.20 L922.70,478.40 Z" fill="#000" stroke="none"/>
<line x1="943.25" y1="480.50" x2="982.55" y2="480.50" stroke-width="1.0" />
<path d="M943.25,480.80 L957.25,478.40 L957.25,483.20 Z" fill="#000" stroke="none"/>
<path d="M982.55,480.80 L968.55,483.20 L968.55,478.40 Z" fill="#000" stroke="none"/>
<g><path d="M763 0 L583 0 L583 1147 Q518 1085 412 1023 Q306 961 221 930 L221 1104 Q372 1175 485 1276 Q598 1377 645 1472 L763 1472 Z" transform="translate(898.74 477.30) scale(0.00977 -0.00977)" stroke="none" fill="#000"/></g>
<g><text stroke="#000" stroke-width="0.3" x="892.60" y="499.60" font-size="20">4</text><path d="M906.66,489.30 L913.66,496.30 M906.66,496.30 L913.66,489.30" stroke-width="1.9" fill="none"/></g>
<g><text stroke="#000" stroke-width="0.3" x="949.10" y="476.80" font-size="20">0.6</text></g>
<circle cx="943.25" cy="298.15" r="4.6" fill="none" stroke-width="1.2"/>
<rect x="220.80" y="553.90" width="35.80" height="30.10" fill="#808080" stroke="none"/>
<g><text stroke="#000" stroke-width="0.3" x="271.00" y="574.30" font-size="20">copper</text></g>
<clipPath id="lg1"><rect x="502.3" y="553.3" width="35.8" height="31.1"/></clipPath>
<g clip-path="url(#lg1)">
<line x1="460.00" y1="600.00" x2="560.00" y2="500.00" stroke-width="1.2" />
<line x1="476.50" y1="600.00" x2="576.50" y2="500.00" stroke-width="1.2" />
<line x1="510.00" y1="600.00" x2="610.00" y2="500.00" stroke-width="1.2" />
</g>
<rect x="502.30" y="553.30" width="35.80" height="31.10" fill="none" stroke-width="1.3" />
<g><text stroke="#000" stroke-width="0.3" x="551.50" y="574.30" font-size="20">solder mask</text></g>
<clipPath id="lg2"><rect x="783.4" y="553.2" width="36" height="31.2"/></clipPath>
<g clip-path="url(#lg2)">
<line x1="742.70" y1="600.00" x2="842.70" y2="500.00" stroke-width="1.2" />
<line x1="758.50" y1="600.00" x2="858.50" y2="500.00" stroke-width="1.2" />
<line x1="776.60" y1="600.00" x2="876.60" y2="500.00" stroke-width="1.2" />
<line x1="792.30" y1="600.00" x2="892.30" y2="500.00" stroke-width="1.2" />
</g>
<rect x="783.40" y="553.20" width="36.00" height="31.20" fill="none" stroke-width="1.3" />
<g><text stroke="#000" stroke-width="0.3" x="833.50" y="574.30" font-size="20">stencil apertures</text></g>
<g><text stroke="#000" stroke-width="0.3" x="434.00" y="623.50" font-size="20">All dimensions are in units mm</text></g>
<g><text stroke="#000" stroke-width="0.3" x="434.00" y="647.80" font-size="20">All pads are non-solder mask defined</text></g>
</g>
</svg>
</body></html>
